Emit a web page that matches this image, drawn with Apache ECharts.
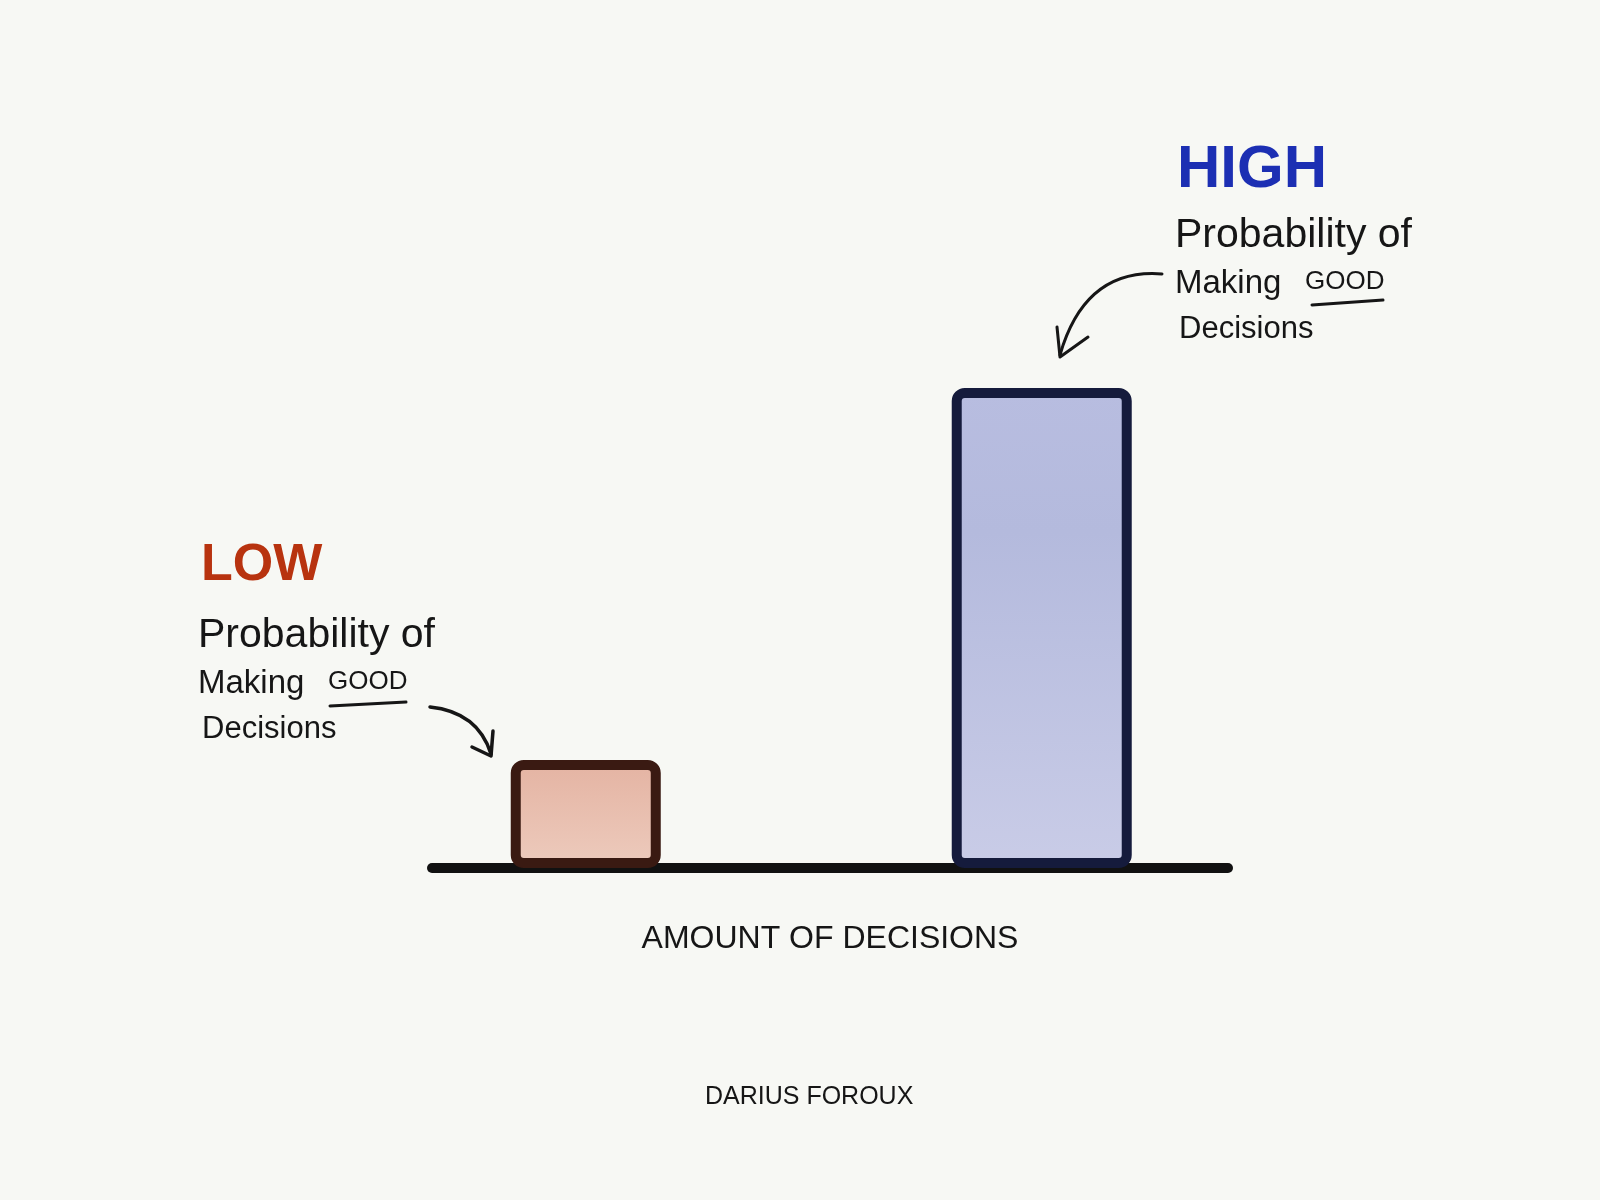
<!DOCTYPE html>
<html>
<head>
<meta charset="utf-8">
<script src="https://cdn.jsdelivr.net/npm/echarts@6/dist/echarts.min.js"></script>
<style>
  html, body { margin: 0; padding: 0; background: #f7f8f4; }
  #chart { width: 1600px; height: 1200px; }
</style>
</head>
<body>
<div id="chart"></div>
<script>
// ---- data ----
const categories = ['LOW', 'HIGH'];
const decisionAmount = [21.2, 76.6];      // position along "Amount of decisions"
const goodDecisionProb = [21.6, 96];      // bar heights
const annotationLines = ['Probability of', 'Making', 'GOOD', 'Decisions'];
const xAxisName = 'AMOUNT OF DECISIONS';
const author = 'DARIUS FOROUX';

const FONT = '"Liberation Sans", "DejaVu Sans", sans-serif';
const INK = '#161616';

function annotation(x, yTop, goodX, uline) {
  return [
    { type: 'text', style: { x: x, y: yTop, text: annotationLines[0], font: '41px ' + FONT, fill: INK, textVerticalAlign: 'middle' } },
    { type: 'text', style: { x: x, y: yTop + 48, text: annotationLines[1], font: '33px ' + FONT, fill: INK, textVerticalAlign: 'middle' } },
    { type: 'text', style: { x: goodX, y: yTop + 46, text: annotationLines[2], font: '26px ' + FONT, fill: INK, textVerticalAlign: 'middle' } },
    { type: 'text', style: { x: x + 4, y: yTop + 93, text: annotationLines[3], font: '31px ' + FONT, fill: INK, textVerticalAlign: 'middle' } },
    { type: 'line', shape: uline, style: { stroke: INK, lineWidth: 3, lineCap: 'round' } }
  ];
}

const chart = echarts.init(document.getElementById('chart'));
const option = {
  backgroundColor: '#f7f8f4',
  animation: false,
  title: {
    text: author,
    left: 700,
    top: 1080,
    textStyle: { fontFamily: FONT, fontSize: 25, fontWeight: 'normal', color: INK }
  },
  grid: { left: 432, right: 372, top: 368, bottom: 332 },
  xAxis: {
    type: 'value', min: 0, max: 100,
    axisLine: { show: true, onZero: true, lineStyle: { color: '#111', width: 10, cap: 'round' } },
    axisTick: { show: false }, axisLabel: { show: false }, splitLine: { show: false },
    name: xAxisName, nameLocation: 'middle', nameGap: 55,
    nameTextStyle: { fontFamily: FONT, fontSize: 32, color: INK }
  },
  yAxis: { type: 'value', min: 0, max: 100, show: false },
  series: [
    {
      name: categories[0], type: 'bar', barWidth: 150, barGap: '-100%', z: 1,
      data: [[decisionAmount[0], goodDecisionProb[0]]],
      itemStyle: {
        color: new echarts.graphic.LinearGradient(0, 0, 0, 1, [
          { offset: 0, color: '#e4b3a2' }, { offset: 1, color: '#edcbbd' }
        ]),
        borderColor: '#3a1a12', borderWidth: 10, borderRadius: 8
      }
    },
    {
      name: categories[1], type: 'bar', barWidth: 180, barGap: '-100%', z: 1,
      data: [[decisionAmount[1], goodDecisionProb[1]]],
      itemStyle: {
        color: new echarts.graphic.LinearGradient(0, 0, 0, 1, [
          { offset: 0, color: '#b8bde0' }, { offset: 0.3, color: '#b4badd' }, { offset: 1, color: '#c9cce7' }
        ]),
        borderColor: '#151b3c', borderWidth: 10, borderRadius: 8
      }
    }
  ],
  graphic: [
    { type: 'text', style: { x: 201, y: 566, text: categories[0], font: 'bold 52px ' + FONT, fill: '#b8330f', textVerticalAlign: 'middle' } },
    { type: 'text', style: { x: 1177, y: 170, text: categories[1], font: 'bold 60px ' + FONT, fill: '#1c2fb3', textVerticalAlign: 'middle' } },
    ...annotation(198, 636, 328, { x1: 330, y1: 706, x2: 406, y2: 702 }),
    ...annotation(1175, 236, 1305, { x1: 1312, y1: 305, x2: 1383, y2: 300 }),
    { type: 'bezierCurve', shape: { x1: 430, y1: 707, cpx1: 478, cpy1: 712, x2: 491, y2: 754 }, style: { stroke: INK, lineWidth: 3.5, fill: null, lineCap: 'round' } },
    { type: 'polyline', shape: { points: [[472, 747], [491, 756], [493, 731]] }, style: { stroke: INK, lineWidth: 3.5, fill: null, lineCap: 'round', lineJoin: 'round' } },
    { type: 'bezierCurve', shape: { x1: 1162, y1: 274, cpx1: 1085, cpy1: 268, x2: 1060, y2: 355 }, style: { stroke: INK, lineWidth: 3, fill: null, lineCap: 'round' } },
    { type: 'polyline', shape: { points: [[1057, 327], [1060, 357], [1088, 337]] }, style: { stroke: INK, lineWidth: 3, fill: null, lineCap: 'round', lineJoin: 'round' } }
  ]
};
chart.setOption(option);
</script>
</body>
</html>
